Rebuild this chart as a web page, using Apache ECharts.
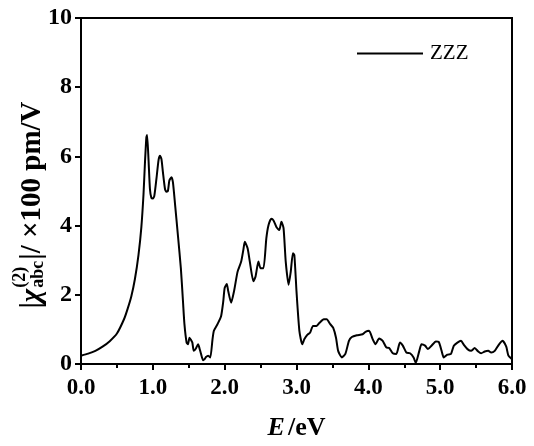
<!DOCTYPE html>
<html>
<head>
<meta charset="utf-8">
<script src="https://cdn.jsdelivr.net/npm/echarts@6/dist/echarts.min.js"></script>
<style>html,body{margin:0;padding:0;background:#fff}#c{width:534px;height:446px}</style>
</head>
<body>
<div id="c"></div>
<script>
const energy = [0.00,0.10,0.20,0.30,0.40,0.50,0.60,0.65,0.70,0.75,0.80,0.84,0.87,0.89,0.91,0.92,0.94,0.96,0.98,1.00,1.02,1.05,1.08,1.10,1.12,1.14,1.17,1.19,1.21,1.23,1.26,1.28,1.31,1.35,1.39,1.42,1.44,1.47,1.49,1.51,1.53,1.55,1.57,1.60,1.63,1.65,1.67,1.70,1.72,1.74,1.77,1.80,1.83,1.85,1.90,1.95,1.98,2.00,2.03,2.05,2.09,2.13,2.18,2.23,2.26,2.28,2.32,2.35,2.40,2.43,2.47,2.50,2.54,2.58,2.61,2.65,2.68,2.72,2.76,2.79,2.82,2.85,2.89,2.92,2.95,2.97,3.00,3.04,3.08,3.11,3.15,3.19,3.23,3.28,3.32,3.38,3.42,3.47,3.51,3.55,3.58,3.63,3.68,3.73,3.77,3.84,3.92,3.96,4.01,4.06,4.10,4.15,4.20,4.25,4.29,4.34,4.39,4.44,4.48,4.53,4.58,4.63,4.66,4.71,4.74,4.79,4.83,4.88,4.94,4.98,5.02,5.05,5.10,5.15,5.19,5.24,5.29,5.33,5.38,5.43,5.48,5.53,5.57,5.62,5.67,5.71,5.76,5.82,5.87,5.92,5.95,6.00];
const zzz = [0.24,0.30,0.38,0.50,0.66,0.88,1.30,1.60,1.95,2.45,3.15,3.95,4.90,5.80,6.55,6.62,5.90,5.05,4.80,4.78,4.85,5.35,5.90,6.02,5.92,5.55,5.05,4.98,5.00,5.30,5.40,5.25,4.60,3.70,2.77,1.80,1.15,0.62,0.57,0.76,0.70,0.62,0.38,0.45,0.57,0.45,0.30,0.11,0.14,0.20,0.24,0.19,0.70,0.96,1.15,1.38,1.80,2.20,2.31,2.10,1.77,2.10,2.67,2.96,3.30,3.53,3.34,2.96,2.39,2.53,2.96,2.77,2.77,3.63,4.01,4.20,4.15,3.96,3.87,4.11,3.92,2.96,2.29,2.67,3.20,3.15,2.10,0.96,0.57,0.72,0.84,0.91,1.10,1.10,1.19,1.29,1.29,1.15,1.05,0.76,0.38,0.19,0.29,0.67,0.78,0.83,0.86,0.93,0.96,0.72,0.57,0.74,0.67,0.48,0.46,0.31,0.29,0.62,0.53,0.33,0.31,0.19,0.03,0.38,0.57,0.53,0.43,0.53,0.65,0.64,0.38,0.19,0.27,0.29,0.53,0.62,0.67,0.55,0.43,0.38,0.46,0.36,0.31,0.36,0.38,0.33,0.38,0.57,0.67,0.50,0.24,0.14];
const seriesName = 'ZZZ';
const xTicks = {min: 0, max: 6, interval: 1};
const yTicks = {min: 0, max: 10, interval: 2};

const FAM = '"Liberation Serif", "Times New Roman", serif';
const chart = echarts.init(document.getElementById('c'));

// y-axis title pieces (rotated), measured with canvas
const mctx = document.createElement('canvas').getContext('2d');
function tw(t, f){ mctx.font = f; return mctx.measureText(t).width; }
const F = 29, S = 18;
const fMain = 'bold ' + F + 'px ' + FAM;
const fChi = 'italic bold ' + F + 'px ' + FAM;
const fScr = 'bold ' + S + 'px ' + FAM;
const p1 = '|', p2 = '\u03C7', sup = '(2)', sub = 'abc', p3 = '|/ \u00D7100 pm/V';
const w1 = tw(p1, fMain), w2 = tw(p2, fChi), wsup = tw(sup, fScr), wsub = tw(sub, fScr), w3 = tw(p3, fMain);
const wScr = Math.max(wsup, wsub);
const L = w1 + w2 + 1 + wScr + 1 + w3;
let x0 = -L / 2;
const kids = [];
function addText(t, x, y, f){
  kids.push({type: 'text', x: x, y: y, style: {text: t, font: f, fill: '#000', align: 'left', verticalAlign: 'middle', textAlign: 'left', textVerticalAlign: 'middle'}});
}
addText(p1, x0, 0, fMain); x0 += w1;
addText(p2, x0, 0, fChi); x0 += w2 + 1;
addText(sup, x0, -0.42 * F, fScr);
addText(sub, x0, 0.2 * F, fScr);
x0 += wScr + 1;
addText(p3, x0, 0, fMain);

chart.setOption({
  animation: false,
  backgroundColor: '#fff',
  grid: {left: 81, right: 22, top: 18, bottom: 80, show: true, borderColor: '#000', borderWidth: 2, backgroundColor: 'transparent'},
  legend: {
    data: [seriesName], left: 352, top: 38, icon: 'rect', itemWidth: 66, itemHeight: 2,
    textStyle: {fontFamily: FAM, fontSize: 21, color: '#000', padding: [0, 0, 0, 2]}
  },
  xAxis: {
    type: 'value', min: xTicks.min, max: xTicks.max, interval: xTicks.interval,
    name: '{i|E} {b|/eV}', nameLocation: 'middle', nameGap: 51,
    nameTextStyle: {rich: {i: {fontFamily: FAM, fontSize: 26, fontWeight: 'bold', fontStyle: 'italic', color: '#000'}, b: {fontFamily: FAM, fontSize: 26, fontWeight: 'bold', color: '#000'}}},
    axisLine: {show: true, lineStyle: {color: '#000', width: 2}},
    axisTick: {show: true, inside: false, length: 6, lineStyle: {color: '#000', width: 2}},
    minorTick: {show: true, splitNumber: 2, length: 4, lineStyle: {color: '#000', width: 2}},
    splitLine: {show: false},
    axisLabel: {margin: 13, fontFamily: FAM, fontSize: 23, fontWeight: 'bold', color: '#000', formatter: v => v.toFixed(1)}
  },
  yAxis: {
    type: 'value', min: yTicks.min, max: yTicks.max, interval: yTicks.interval,
    axisLine: {show: true, lineStyle: {color: '#000', width: 2}},
    axisTick: {show: true, inside: false, length: 6, lineStyle: {color: '#000', width: 2}},
    splitLine: {show: false},
    axisLabel: {margin: 9, fontFamily: FAM, fontSize: 24, fontWeight: 'bold', color: '#000'}
  },
  graphic: [{type: 'group', x: 33, y: 205, rotation: Math.PI / 2, children: kids}],
  series: [{
    name: seriesName, type: 'line', data: energy.map((e, i) => [e, zzz[i]]),
    showSymbol: false, symbol: 'none', smooth: 0.2,
    lineStyle: {color: '#000', width: 2}, itemStyle: {color: '#000'}
  }]
});
</script>
</body>
</html>
